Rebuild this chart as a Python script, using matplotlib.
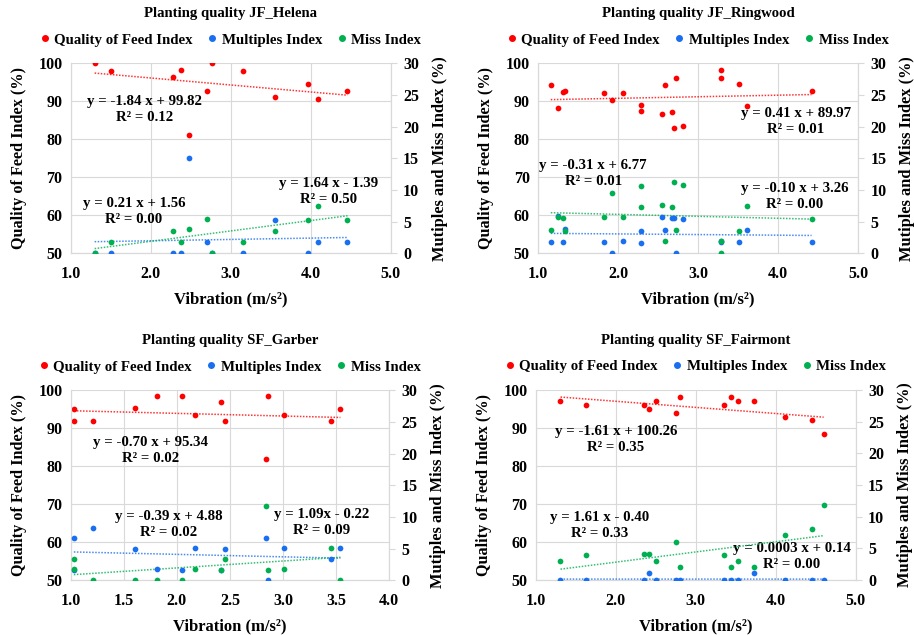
import numpy as np
import matplotlib
matplotlib.use("Agg")
import matplotlib.pyplot as plt
from matplotlib.lines import Line2D

plt.rcParams['font.family'] = ['Liberation Serif', 'DejaVu Serif']
plt.rcParams['font.weight'] = 'bold'
plt.rcParams['axes.labelweight'] = 'bold'

# ---- JF_Helena ----
helena_vib = [1.30, 1.50, 2.275, 2.375, 2.48, 2.71, 2.77, 3.16, 3.56, 3.97, 4.09, 4.46]
helena_qfi = [100.0, 98.1, 96.3, 98.2, 81.1, 92.7, 100.0, 98.1, 91.05, 94.6, 90.7, 92.8]
helena_mult = [0.0, 0.0, 0.0, 0.0, 15.1, 1.84, 0.0, 0.0, 5.3, 0.0, 1.84, 1.84]
helena_miss = [0.0, 1.84, 3.58, 1.84, 3.79, 5.47, 0.0, 1.84, 3.58, 5.3, 7.4, 5.3]

# ---- JF_Ringwood ----
ringwood_vib = [1.16, 1.25, 1.31, 1.34, 1.82, 1.92, 2.06, 2.29, 2.29, 2.55,
                2.59, 2.68, 2.70, 2.72, 2.81, 3.29, 3.29, 3.51, 3.61, 4.42]
ringwood_qfi = [94.4, 88.3, 92.5, 92.6, 92.3, 90.4, 92.1, 88.9, 87.5, 86.6,
                94.2, 87.1, 83.0, 96.2, 83.6, 98.15, 96.1, 94.45, 88.7, 92.7]
ringwood_mult = [1.85, 5.9, 1.85, 3.8, 1.85, 0.0, 1.9, 3.6, 1.7, 5.7,
                 3.75, 5.5, 5.5, 0.0, 5.4, 1.85, 1.9, 1.8, 3.7, 1.8]
ringwood_miss = [3.7, 5.8, 5.6, 3.6, 5.7, 9.56, 5.8, 7.34, 10.67, 7.66,
                 1.9, 7.34, 11.25, 3.7, 10.83, 0.0, 1.9, 3.6, 7.5, 5.4]

# ---- SF_Garber ----
garber_vib = [1.03, 1.03, 1.21, 1.61, 1.81, 2.05, 2.17, 2.42, 2.45, 2.84, 2.86, 3.01, 3.45, 3.54]
garber_qfi = [95.1, 91.9, 91.9, 95.3, 98.5, 98.5, 93.5, 96.8, 91.9, 81.8, 98.5, 93.5, 91.8, 95.1]
garber_mult = [1.6, 6.7, 8.3, 4.95, 1.74, 1.63, 5.16, 1.6, 4.95, 6.7, 0.0, 5.16, 3.42, 5.16]
garber_miss = [3.3, 1.74, 0.0, 0.0, 0.0, 0.0, 1.74, 1.63, 3.3, 11.7, 1.63, 1.74, 5.16, 0.0]

# ---- SF_Fairmont ----
fairmont_vib = [1.31, 1.625, 2.36, 2.42, 2.51, 2.75, 2.81, 3.36, 3.44, 3.525, 3.73, 4.12, 4.46, 4.60]
fairmont_qfi = [97.1, 96.1, 96.05, 95.0, 97.1, 94.0, 98.1, 96.05, 98.1, 97.0, 97.0, 92.9, 92.0, 88.35]
fairmont_mult = [0.0, 0.0, 0.0, 1.1, 0.0, 0.0, 0.0, 0.0, 0.0, 0.0, 1.1, 0.0, 0.0, 0.0]
fairmont_miss = [3.05, 4.0, 4.1, 4.1, 3.05, 6.0, 2.05, 4.0, 2.05, 3.05, 2.05, 7.15, 8.0, 11.8]

titles = ["Planting quality JF_Helena", "Planting quality JF_Ringwood",
          "Planting quality SF_Garber", "Planting quality SF_Fairmont"]

# trendline coefficients (slope, intercept) for QFI, multiples, miss
trend_qfi = [(-1.84, 99.82), (0.41, 89.97), (-0.70, 95.34), (-1.61, 100.26)]
trend_mult = [(0.21, 1.56), (-0.10, 3.26), (-0.39, 4.88), (0.0003, 0.14)]
trend_miss = [(1.64, -1.39), (-0.31, 6.77), (1.09, -0.22), (1.61, -0.40)]

eq_qfi = ["y = -1.84 x + 99.82\nR² = 0.12", "y = 0.41 x + 89.97\nR² = 0.01",
          "y = -0.70 x + 95.34\nR² = 0.02", "y = -1.61 x + 100.26\nR² = 0.35"]
eq_mult = ["y = 0.21 x + 1.56\nR² = 0.00", "y = -0.10 x + 3.26\nR² = 0.00",
           "y = -0.39 x + 4.88\nR² = 0.02", "y = 0.0003 x + 0.14\nR² = 0.00"]
eq_miss = ["y = 1.64 x - 1.39\nR² = 0.50", "y = -0.31 x + 6.77\nR² = 0.01",
           "y = 1.09x - 0.22\nR² = 0.09", "y = 1.61 x - 0.40\nR² = 0.33"]

# label positions in data coords of left axis
eq_qfi_pos = [(1.92, 87.8), (4.22, 84.6), (1.75, 84.2), (2.00, 87.1)]
eq_mult_pos = [(1.79, 61.0), (4.21, 64.9), (1.92, 64.6), (4.20, 56.3)]
eq_miss_pos = [(4.22, 66.3), (1.69, 71.05), (3.36, 65.2), (1.80, 64.4)]

xticks_all = [np.arange(1.0, 5.01, 1.0), np.arange(1.0, 5.01, 1.0),
              np.arange(1.0, 4.01, 0.5), np.arange(1.0, 5.01, 1.0)]

data = [(helena_vib, helena_qfi, helena_mult, helena_miss),
        (ringwood_vib, ringwood_qfi, ringwood_mult, ringwood_miss),
        (garber_vib, garber_qfi, garber_mult, garber_miss),
        (fairmont_vib, fairmont_qfi, fairmont_mult, fairmont_miss)]

positions = [[0.0773, 0.6011, 0.3501, 0.2992], [0.5886, 0.6011, 0.3501, 0.2992],
             [0.0773, 0.0861, 0.3486, 0.2992], [0.5861, 0.0866, 0.3501, 0.2992]]

RED, BLUE, GREEN = "#FF0000", "#1A6FF0", "#00B050"
GRID = "#D9D9D9"
BOLD = dict(fontweight='bold')

fig = plt.figure(figsize=(9.14, 6.35), dpi=100)

for i in range(4):
    vib, qfi, mult, miss = data[i]
    ax = fig.add_axes(positions[i])
    ax2 = ax.twinx()

    ax.scatter(vib, qfi, s=17, color=RED, zorder=3, linewidths=0)
    ax2.scatter(vib, mult, s=17, color=BLUE, zorder=3, linewidths=0)
    ax2.scatter(vib, miss, s=17, color=GREEN, zorder=3, linewidths=0)

    xs = np.array([min(vib), max(vib)])
    m, b = trend_qfi[i]
    ax.plot(xs, m * xs + b, color=RED, ls=(0, (1, 1)), lw=1.1, alpha=0.8)
    m, b = trend_mult[i]
    ax2.plot(xs, m * xs + b, color=BLUE, ls=(0, (1, 1)), lw=1.1, alpha=0.8)
    m, b = trend_miss[i]
    ax2.plot(xs, m * xs + b, color=GREEN, ls=(0, (1, 1)), lw=1.1, alpha=0.8)

    for txt, pos in [(eq_qfi[i], eq_qfi_pos[i]), (eq_mult[i], eq_mult_pos[i]),
                     (eq_miss[i], eq_miss_pos[i])]:
        ax.text(pos[0], pos[1], txt, ha='center', va='center', fontsize=10.7,
                linespacing=1.3, zorder=5, transform=ax.transData, **BOLD)

    xt = xticks_all[i]
    ax.set_xlim(xt[0], xt[-1])
    ax.set_xticks(xt)
    ax.set_xticklabels([f"{v:.1f}" for v in xt], **BOLD)
    ax.set_ylim(50, 100)
    ax.set_yticks(range(50, 101, 10))
    ax.set_yticklabels([str(v) for v in range(50, 101, 10)], **BOLD)
    ax2.set_ylim(0, 30)
    ax2.set_yticks(range(0, 31, 5))
    ax2.set_yticklabels([str(v) for v in range(0, 31, 5)], **BOLD)

    ax.grid(True, color=GRID, lw=0.8)
    ax.set_axisbelow(True)
    for a in (ax, ax2):
        a.spines['top'].set_visible(False)
        for s in ('left', 'right', 'bottom'):
            a.spines[s].set_color(GRID)
    ax.tick_params(axis='both', length=0, labelsize=11.5)
    ax.tick_params(axis='x', pad=9)
    ax.tick_params(axis='y', pad=6)
    ax2.tick_params(axis='y', length=4, color=GRID, labelsize=11.5, pad=5)

    ax.set_xlabel("Vibration (m/s²)", fontsize=12, labelpad=7, **BOLD)
    ax.set_ylabel("Quality of Feed Index (%)", fontsize=11.7, labelpad=8, **BOLD)
    ax2.set_ylabel("Mutiples and Miss Index (%)", fontsize=11.8, labelpad=9, **BOLD)

    ax.text(0.5, 1.26, titles[i], transform=ax.transAxes, ha='center',
            va='center', fontsize=10.6, **BOLD)

    handles = [Line2D([], [], ls='', marker='o', ms=4, color=c) for c in (RED, BLUE, GREEN)]
    ax.legend(handles, ["Quality of Feed Index", "Multiples Index", "Miss Index"],
              loc='center', bbox_to_anchor=(0.5, 1.123), ncol=3, frameon=False,
              prop=dict(size=10.7, weight='bold'), handlelength=0.6,
              handletextpad=0.35, columnspacing=1.0, borderaxespad=0)

fig.savefig("out.png", dpi=100)
